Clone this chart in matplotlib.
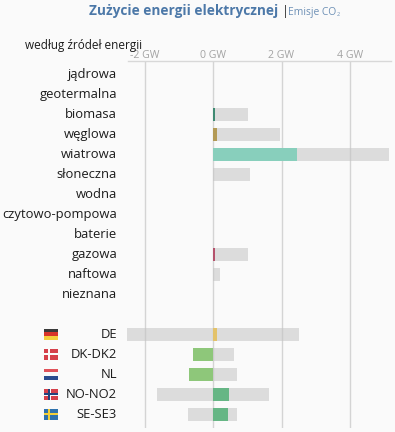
import matplotlib
matplotlib.use('Agg')
import matplotlib.pyplot as plt
from matplotlib.patches import Rectangle

plt.rcParams['font.family'] = ['Open Sans', 'DejaVu Sans']

W, H = 395, 432

sources = ['jądrowa', 'geotermalna', 'biomasa', 'węglowa', 'wiatrowa', 'słoneczna', 'wodna',
           'czytowo-pompowa', 'baterie', 'gazowa', 'naftowa', 'nieznana']
source_capacity = [0, 0, 1.02, 1.95, 5.15, 1.08, 0, 0, 0, 1.02, 0.21, 0]
source_production = [0, 0, 0.06, 0.12, 2.45, 0, 0, 0, 0, 0.06, 0, 0]
source_colors = ['#ffffff', '#ffffff', '#3f8a72', '#b39a55', '#88cfbc', '#f5c542', '#ffffff',
                 '#ffffff', '#ffffff', '#b5526c', '#ffffff', '#ffffff']

zones = ['DE', 'DK-DK2', 'NL', 'NO-NO2', 'SE-SE3']
zone_import_cap = [-2.5, -0.58, -0.7, -1.63, -0.73]
zone_export_cap = [2.5, 0.61, 0.7, 1.63, 0.7]
zone_flow = [0.13, -0.58, -0.7, 0.47, 0.44]
zone_colors = ['#e3c26a', '#8ec77a', '#8ec77a', '#66b685', '#66b685']

ticks = [-2, 0, 2, 4]
tick_labels = ['-2 GW', '0 GW', '2 GW', '4 GW']

bg = '#fafafa'
fig = plt.figure(figsize=(W / 100, H / 100), dpi=100, facecolor=bg)


def px_axes(x0, y0, x1, y1):
    return fig.add_axes([x0 / W, 1 - y1 / H, (x1 - x0) / W, (y1 - y0) / H])


# main axes, y in pixels so rows stay on the 20px grid
ax = px_axes(128, 61, 391, 428)
px_per_gw = (350 - 213) / 4
ax.set_xlim((128 - 213) / px_per_gw, (391 - 213) / px_per_gw)
ax.set_ylim(428, 61)
ax.set_facecolor('none')
for s in ['left', 'right', 'bottom']:
    ax.spines[s].set_visible(False)
ax.spines['top'].set_color('#d8d8d8')
ax.spines['top'].set_linewidth(1)
ax.xaxis.tick_top()
ax.set_xticks(ticks)
ax.set_xticklabels(tick_labels, fontsize=7.6, color='#a3a3a3')
ax.tick_params(axis='x', length=0, pad=0)
ax.set_yticks([])
ax.grid(axis='x', color='#d4d4d4', linewidth=1)
ax.set_axisbelow(True)

bar_h = 13
for i, name in enumerate(sources):
    y = 74 + i * 20
    ax.barh(y, source_capacity[i], height=bar_h, color='#c4c4c4', alpha=0.55, linewidth=0)
    if source_production[i]:
        ax.barh(y, source_production[i], height=bar_h, color=source_colors[i], linewidth=0)
    fig.text(117 / W, 1 - (y + 0.8) / H, name, ha='right', va='center', fontsize=9.4, color='#1c1c1c')

# flags are drawn as a stack of stripes plus optional cross
flag_stripes = {
    'DE': ['#3a3a3a', '#d8352a', '#f5cf3c'],
    'DK-DK2': ['#d5404a'],
    'NL': ['#e0525a', '#fafafa', '#2a4c8f'],
    'NO-NO2': ['#d5404a'],
    'SE-SE3': ['#2f72ad'],
}
flag_cross = {
    'DK-DK2': [('#fafafa', 2.2)],
    'NO-NO2': [('#fafafa', 3), ('#24427c', 1.4)],
    'SE-SE3': [('#f3cf3a', 2.4)],
}

for i, name in enumerate(zones):
    y = 334 + i * 20
    ax.barh(y, zone_export_cap[i] - zone_import_cap[i], left=zone_import_cap[i], height=bar_h,
            color='#c4c4c4', alpha=0.55, linewidth=0, clip_on=False)
    ax.barh(y, zone_flow[i], height=bar_h, color=zone_colors[i], linewidth=0)
    fig.text(117 / W, 1 - (y + 0.8) / H, name, ha='right', va='center', fontsize=9.4, color='#1c1c1c')

    fax = px_axes(44, y - 6.5, 58, y + 6.5)
    fax.set_xlim(0, 14)
    fax.set_ylim(13, 0)
    fax.axis('off')
    stripes = flag_stripes[name]
    h = 11 / len(stripes)
    for j, col in enumerate(stripes):
        fax.add_patch(Rectangle((0, 1 + j * h), 14, h, color=col, linewidth=0))
    for col, w in flag_cross.get(name, []):
        fax.add_patch(Rectangle((0, 6.5 - w / 2), 14, w, color=col, linewidth=0))
        fax.add_patch(Rectangle((5 - w / 2, 1), w, 11, color=col, linewidth=0))

fig.text(89 / W, 1 - 10.5 / H, 'Zużycie energii elektrycznej', fontsize=9.8, fontweight='bold',
         color='#4c78a8', ha='left', va='center')
fig.text(282 / W, 1 - 12 / H, '|', fontsize=9, color='#333333', ha='left', va='center')
fig.text(288 / W, 1 - 12 / H, 'Emisje CO', fontsize=7.4, color='#6c8fb5', ha='left', va='center')
fig.text(337 / W, 1 - 15 / H, '2', fontsize=4, color='#6c8fb5', ha='left', va='center')
fig.text(25 / W, 1 - 45.5 / H, 'według źródeł energii', fontsize=8.5, color='#1c1c1c', ha='left', va='center')

fig.savefig('out.png', dpi=100, facecolor=bg)
